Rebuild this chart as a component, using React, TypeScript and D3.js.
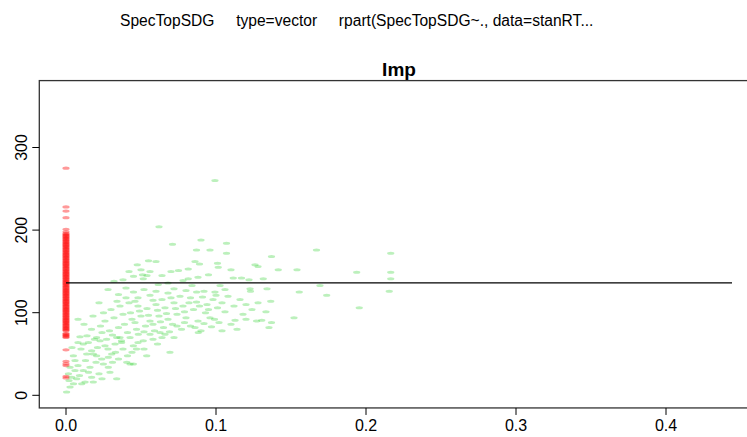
import * as d3 from "d3";

// red: observations at Imp == 0 (left branch of the split)
const redY = [
  275, 228, 223, 215, 201, 198, 196, 194, 192, 190, 189, 187, 185, 184, 182, 180, 178, 177,
  175, 173, 171, 170, 168, 166, 164, 163, 161, 159, 157, 156, 154, 152, 150, 149, 147, 145,
  143, 142, 140, 138, 136, 135, 133, 131, 129, 128, 126, 124, 122, 121, 119, 117, 115, 114,
  112, 110, 108, 107, 105, 103, 101, 100, 98, 96, 94, 93, 91, 89, 87, 86, 84, 82, 80, 78,
  75, 73, 71, 70, 55, 41, 38, 36, 23, 21,
  195, 191, 186, 181, 176, 172, 167, 162, 158, 153, 148, 144, 139, 134, 130, 125, 120, 116,
  111, 106, 102, 97, 92, 88, 83, 79, 193, 188, 183, 179, 174, 169, 165, 160, 155, 151,
  146, 141, 137, 132, 127, 123, 118, 113, 109, 104, 99, 95, 90, 85, 81, 72, 74,
];

// green: observations with Imp > 0 as [Imp, SpecTopSDG]
const greenPts: [number, number][] = [
  [0.0993, 260], [0.062, 204], [0.071, 183], [0.09, 188], [0.107, 184], [0.087, 176],
  [0.096, 176], [0.107, 172], [0.137, 168], [0.167, 176], [0.2165, 172], [0.0475, 158],
  [0.055, 163], [0.06, 162], [0.086, 162], [0.089, 159], [0.101, 160], [0.126, 158],
  [0.128, 156], [0.05, 152], [0.042, 150], [0.056, 150], [0.07, 150], [0.075, 151],
  [0.0815, 153], [0.1015, 155], [0.11, 152], [0.1415, 152], [0.154, 152], [0.1938, 149],
  [0.2165, 149], [0.045, 144], [0.051, 146], [0.0515, 141], [0.054, 145], [0.0815, 141],
  [0.088, 143], [0.095, 146], [0.1115, 142], [0.117, 142], [0.122, 140], [0.1315, 141],
  [0.2165, 141], [0.068, 136], [0.032, 138], [0.038, 140], [0.064, 145], [0.078, 139],
  [0.084, 133], [0.1027, 133], [0.1693, 133], [0.0615, 134], [0.1227, 129], [0.123, 126],
  [0.134, 129], [0.1555, 125], [0.1738, 121], [0.2155, 126], [0.0993, 125], [0.0871, 125],
  [0.1, 121], [0.1365, 114], [0.1955, 106], [0.1333, 101], [0.152, 94], [0.1305, 91],
  [0.127, 90], [0.137, 88], [0.1353, 82], [0.1127, 91],
  [0.028, 128], [0.035, 122], [0.04, 130], [0.045, 125], [0.048, 118], [0.052, 128],
  [0.056, 121], [0.06, 126], [0.064, 116], [0.068, 124], [0.072, 129], [0.076, 120],
  [0.08, 127], [0.083, 118], [0.087, 113], [0.091, 119], [0.094, 110], [0.098, 116],
  [0.104, 112], [0.108, 120], [0.112, 108], [0.116, 116], [0.12, 110], [0.124, 104],
  [0.128, 112], [0.118, 98], [0.106, 101], [0.093, 100], [0.085, 104], [0.078, 108],
  [0.072, 112], [0.066, 106], [0.06, 110], [0.054, 105], [0.048, 108], [0.042, 112],
  [0.036, 108], [0.03, 104], [0.025, 100], [0.022, 112], [0.018, 96], [0.026, 90],
  [0.032, 94], [0.038, 98], [0.044, 92], [0.05, 96], [0.056, 90], [0.062, 96],
  [0.068, 92], [0.074, 98], [0.08, 94], [0.088, 90], [0.096, 94], [0.102, 88],
  [0.11, 86], [0.12, 92], [0.114, 80], [0.104, 78], [0.097, 83], [0.09, 78],
  [0.083, 84], [0.077, 80], [0.071, 86], [0.065, 82], [0.059, 78], [0.053, 84],
  [0.047, 80], [0.041, 76], [0.035, 82], [0.029, 78], [0.023, 84], [0.017, 80],
  [0.012, 86], [0.008, 92],
  [0.0093, 71], [0.0204, 70], [0.0338, 70], [0.036, 70], [0.0693, 52], [0.0405, 40],
  [0.0449, 38], [0.0282, 34], [0.0338, 20], [0.0182, 16], [0.0027, 10], [0.0004, 4],
  [0.0049, 48], [0.0016, 26], [0.0105, 14], [0.0127, 16], [0.0027, 34], [0.006, 30],
  [0.0038, 22], [0.0115, 30], [0.016, 34], [0.0249, 38], [0.0138, 50], [0.0171, 54],
  [0.0182, 50], [0.0282, 46], [0.0238, 44], [0.0115, 62], [0.0149, 64], [0.0227, 66],
  [0.0271, 68], [0.0327, 62], [0.0371, 64], [0.0449, 60], [0.0427, 70], [0.0482, 74],
  [0.056, 74], [0.0627, 76], [0.0515, 66], [0.0305, 50], [0.0204, 48], [0.0293, 28],
  [0.0171, 22], [0.0071, 20], [0.0427, 38], [0.0538, 48], [0.0882, 76], [0.058, 68],
  [0.064, 70], [0.052, 56], [0.038, 56], [0.033, 52], [0.044, 52], [0.01, 56],
  [0.006, 42], [0.021, 58], [0.026, 60],
  [0.031, 73], [0.039, 86], [0.046, 88], [0.052, 77], [0.058, 86], [0.063, 89],
  [0.069, 77], [0.074, 84], [0.079, 88], [0.086, 82], [0.092, 87], [0.099, 92],
  [0.043, 100], [0.049, 102], [0.055, 97], [0.061, 103], [0.067, 99], [0.073, 105],
  [0.079, 101], [0.089, 108], [0.095, 104], [0.101, 106], [0.034, 114], [0.04, 118],
  [0.046, 114], [0.058, 115], [0.07, 118], [0.082, 112], [0.092, 126], [0.106, 128],
  [0.014, 72], [0.024, 76], [0.019, 68], [0.037, 66], [0.048, 64], [0.061, 62],
  [0.066, 74], [0.072, 70], [0.008, 64], [0.004, 58], [0.013, 42], [0.02, 40],
  [0.028, 56], [0.035, 44], [0.009, 24], [0.015, 28], [0.022, 26], [0.005, 14],
  [0.002, 18], [0.008, 36], [0.024, 20], [0.031, 40], [0.041, 48], [0.047, 56],
];

const xTicks = [0, 0.1, 0.2, 0.3, 0.4];
const yTicks = [0, 100, 200, 300];
const splitMean = 136;
const impMax = 0.444;
const xLim = [-0.0178, 0.4618];
const yLim = [-15.3, 381];

const width = 747;
const height = 437;

export default function App() {
  const x = d3.scaleLinear().domain([0, 0.4]).range([66, 666]);
  const y = d3.scaleLinear().domain([0, 300]).range([395.3, 147.5]);

  const left = x(xLim[0]);
  const right = x(xLim[1]);
  const top = y(yLim[1]);
  const bottom = y(yLim[0]);
  const font = "Arial, 'Liberation Sans', sans-serif";

  return (
    <svg width={width} height={height} style={{ position: "absolute", left: 0, top: 0, background: "#fff" }}>
      <text x={120} y={26} fontFamily={font} fontSize={15.6} fill="#000" style={{ whiteSpace: "pre" }}>
        {"SpecTopSDG     type=vector     rpart(SpecTopSDG~., data=stanRT..."}
      </text>
      <text x={(left + right) / 2} y={76} textAnchor="middle" fontFamily={font} fontSize={19} fontWeight="bold">
        Imp
      </text>

      <g>
        {redY.map((v, i) => (
          <ellipse key={"r" + i} cx={x(0)} cy={y(v)} rx={3.6} ry={1.6} fill="#ff0000" fillOpacity={0.4} />
        ))}
        {greenPts.map((p, i) => (
          <ellipse key={"g" + i} cx={x(p[0])} cy={y(p[1])} rx={3.6} ry={1.5} fill="#22cc22" fillOpacity={0.3} />
        ))}
      </g>

      <line x1={x(0)} x2={x(impMax)} y1={y(splitMean)} y2={y(splitMean)} stroke="#000" strokeWidth={1.2} />

      <rect x={left} y={top} width={right - left} height={bottom - top} fill="none" stroke="#333" strokeWidth={1.3} />

      {xTicks.map((t) => (
        <g key={"x" + t}>
          <line x1={x(t)} x2={x(t)} y1={bottom} y2={bottom + 7} stroke="#000" />
          <text x={x(t)} y={431} textAnchor="middle" fontFamily={font} fontSize={16}>
            {d3.format(".1f")(t)}
          </text>
        </g>
      ))}
      {yTicks.map((t) => (
        <g key={"y" + t}>
          <line x1={left} x2={left - 7} y1={y(t)} y2={y(t)} stroke="#000" />
          <text transform={`translate(27,${y(t)}) rotate(-90)`} textAnchor="middle" fontFamily={font} fontSize={16}>
            {t}
          </text>
        </g>
      ))}
    </svg>
  );
}
